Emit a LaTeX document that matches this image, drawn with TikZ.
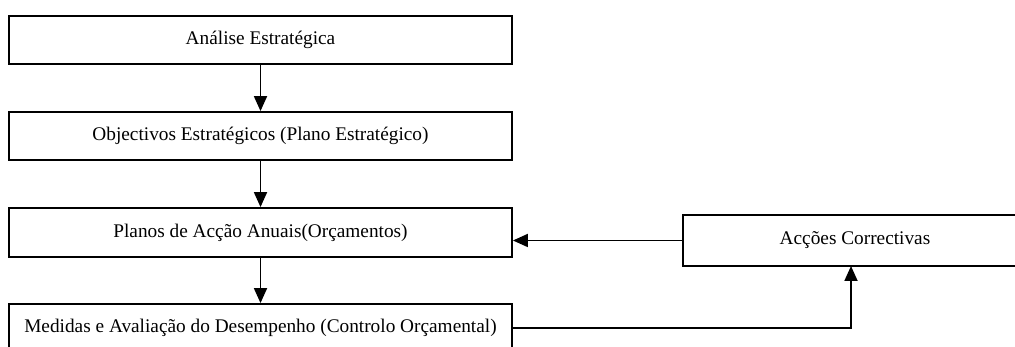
\documentclass[tikz,border=0pt]{standalone}
\usepackage{fontspec}
\setmainfont{Liberation Serif}
\usetikzlibrary{arrows.meta}
\begin{document}
\begin{tikzpicture}[x=1pt,y=-1pt,
  stagebox/.style={draw, line width=1.8pt, rectangle, minimum width=503pt,
    minimum height=48pt, inner sep=0pt, font=\fontsize{19.3}{23}\selectfont},
  sidebox/.style={stagebox, minimum width=344pt, minimum height=51pt},
  flow/.style={line width=1.8pt, -{Triangle[length=15pt,width=13pt]}}
]
\useasboundingbox (0,0) rectangle (1015,347);
\clip (0,0) rectangle (1015,347);
\fill[white] (0,0) rectangle (1015,347);

\node[stagebox] (analise) at (260.5,40) {Análise Estratégica};
\node[stagebox] (objectivos) at (260.5,136) {Objectivos Estratégicos (Plano Estratégico)};
\node[stagebox, minimum height=49pt] (planos) at (260.5,232.5) {Planos de Acção Anuais(Orçamentos)};
\node[stagebox] (medidas) at (260.5,328) {Medidas e Avaliação do Desempenho (Controlo Orçamental)};
\node[sidebox] (correctivas) at (855,240.5) {Acções Correctivas};

\coordinate (entry) at (851,266);

\draw[flow] (analise) -- (objectivos);
\draw[flow] (objectivos) -- (planos);
\draw[flow] (planos) -- (medidas);
\draw[flow] (correctivas.west) -- (planos.east |- correctivas.west);
\draw[flow] (medidas.east) -| (entry);
\end{tikzpicture}
\end{document}
